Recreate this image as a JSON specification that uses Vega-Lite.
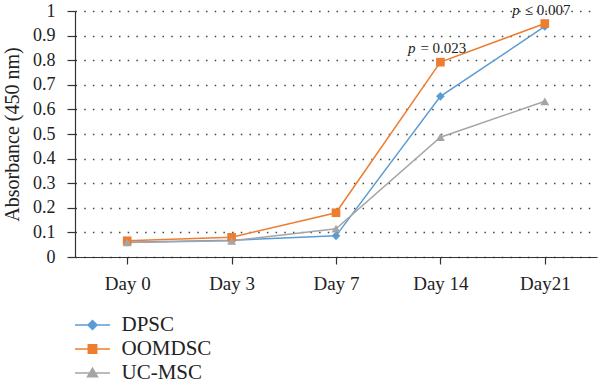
{
  "$schema": "https://vega.github.io/schema/vega-lite/v6.json",
  "width": 522,
  "height": 246,
  "autosize": "none",
  "padding": {"left": 75, "top": 11, "right": 3, "bottom": 131},
  "background": "white",
  "config": {
    "font": "Liberation Serif",
    "view": {"stroke": null},
    "axis": {"labelColor": "#222", "titleColor": "#222", "domainColor": "#333", "tickColor": "#333", "labelFont": "Liberation Serif", "titleFont": "Liberation Serif", "titleFontWeight": "normal"},
    "legend": {"labelFont": "Liberation Serif", "titleFont": "Liberation Serif"},
    "text": {"font": "Liberation Serif"}
  },
  "datasets": {
    "main": [
      {"day": "Day 0", "series": "DPSC", "value": 0.06},
      {"day": "Day 3", "series": "DPSC", "value": 0.068},
      {"day": "Day 7", "series": "DPSC", "value": 0.086},
      {"day": "Day 14", "series": "DPSC", "value": 0.653},
      {"day": "Day21", "series": "DPSC", "value": 0.937},
      {"day": "Day 0", "series": "OOMDSC", "value": 0.066},
      {"day": "Day 3", "series": "OOMDSC", "value": 0.08},
      {"day": "Day 7", "series": "OOMDSC", "value": 0.18},
      {"day": "Day 14", "series": "OOMDSC", "value": 0.792},
      {"day": "Day21", "series": "OOMDSC", "value": 0.949},
      {"day": "Day 0", "series": "UC-MSC", "value": 0.059},
      {"day": "Day 3", "series": "UC-MSC", "value": 0.066},
      {"day": "Day 7", "series": "UC-MSC", "value": 0.115},
      {"day": "Day 14", "series": "UC-MSC", "value": 0.487},
      {"day": "Day21", "series": "UC-MSC", "value": 0.633}
    ],
    "annot": [
      {"day": "Day 14", "value": 0.792, "p": "p", "rest": "= 0.023"},
      {"day": "Day21", "value": 0.949, "p": "p", "rest": "≤ 0.007"}
    ]
  },
  "encoding": {
    "x": {
      "field": "day", "type": "ordinal", "sort": ["Day 0", "Day 3", "Day 7", "Day 14", "Day21"],
      "scale": {"type": "point", "padding": 0.5},
      "axis": {"title": null, "labelAngle": 0, "labelFontSize": 19, "tickSize": 7, "labelPadding": 10, "grid": false, "domainWidth": 1.2, "tickWidth": 1.2}
    },
    "y": {
      "field": "value", "type": "quantitative",
      "scale": {"domain": [0, 1], "nice": false, "zero": true},
      "axis": {
        "title": "Absorbance (450 nm)", "titleFontSize": 20, "titlePadding": 10,
        "values": [0, 0.1, 0.2, 0.3, 0.4, 0.5, 0.6, 0.7, 0.8, 0.9, 1],
        "format": ".1~f", "labelFontSize": 18, "tickSize": 8, "labelPadding": 12,
        "grid": true, "gridDash": [1.5, 7.2], "gridColor": "#444", "gridWidth": 1.3,
        "domainWidth": 1.2, "tickWidth": 1.2
      }
    }
  },
  "layer": [
    {
      "data": {"name": "main"},
      "mark": {"type": "point", "opacity": 0, "strokeWidth": 1.5},
      "encoding": {
        "fill": {
          "field": "series", "type": "nominal",
          "scale": {"domain": ["DPSC", "OOMDSC", "UC-MSC"], "range": ["#5B9BD5", "#ED7D31", "#A5A5A5"]},
          "legend": {"title": null, "orient": "none", "legendX": 6.5, "legendY": 303, "labelFontSize": 21, "labelColor": "#222", "symbolSize": 400, "labelOffset": 18, "rowPadding": 3, "symbolStrokeWidth": 1.5, "symbolOpacity": 1}
        },
        "stroke": {
          "field": "series", "type": "nominal",
          "scale": {"domain": ["DPSC", "OOMDSC", "UC-MSC"], "range": ["#5B9BD5", "#ED7D31", "#A5A5A5"]},
          "legend": {"title": null, "orient": "none", "legendX": 6.5, "legendY": 303, "labelFontSize": 21, "labelColor": "#222", "symbolSize": 400, "labelOffset": 18, "rowPadding": 3, "symbolStrokeWidth": 1.5, "symbolOpacity": 1}
        },
        "shape": {
          "field": "series", "type": "nominal",
          "scale": {"domain": ["DPSC", "OOMDSC", "UC-MSC"], "range": ["M-1.75,0H1.75M0,-0.45L0.45,0L0,0.45L-0.45,0Z", "M-1.75,0H1.75M-0.42,-0.42H0.42V0.42H-0.42Z", "M-1.75,0H1.75M-0.5,0.38L0.5,0.38L0,-0.48Z"]},
          "legend": {"title": null, "orient": "none", "legendX": 6.5, "legendY": 303, "labelFontSize": 21, "labelColor": "#222", "symbolSize": 400, "labelOffset": 18, "rowPadding": 3, "symbolStrokeWidth": 1.5, "symbolOpacity": 1}
        }
      }
    },
    {
      "data": {"name": "main"},
      "mark": {"type": "line", "strokeWidth": 1.5},
      "encoding": {
        "color": {
          "field": "series", "type": "nominal", "legend": null,
          "scale": {"domain": ["DPSC", "OOMDSC", "UC-MSC"], "range": ["#5B9BD5", "#ED7D31", "#A5A5A5"]}
        }
      }
    },
    {
      "data": {"name": "main"},
      "transform": [{"filter": "datum.series === 'DPSC'"}],
      "mark": {"type": "point", "filled": true, "opacity": 1, "shape": "diamond", "size": 75},
      "encoding": {"color": {"field": "series", "type": "nominal", "legend": null}}
    },
    {
      "data": {"name": "main"},
      "transform": [{"filter": "datum.series === 'OOMDSC'"}],
      "mark": {"type": "point", "filled": true, "opacity": 1, "shape": "square", "size": 75},
      "encoding": {"color": {"field": "series", "type": "nominal", "legend": null}}
    },
    {
      "data": {"name": "main"},
      "transform": [{"filter": "datum.series === 'UC-MSC'"}],
      "mark": {"type": "point", "filled": true, "opacity": 1, "shape": "triangle-up", "size": 80},
      "encoding": {"color": {"field": "series", "type": "nominal", "legend": null}}
    },
    {
      "data": {"name": "annot"},
      "mark": {"type": "text", "align": "right", "dx": -25, "dy": -9, "baseline": "alphabetic", "fontSize": 15, "fontStyle": "italic", "color": "#222", "font": "Liberation Serif"},
      "encoding": {"text": {"field": "p"}}
    },
    {
      "data": {"name": "annot"},
      "mark": {"type": "text", "align": "left", "dx": -20, "dy": -9, "baseline": "alphabetic", "fontSize": 15, "color": "#222", "font": "Liberation Serif"},
      "encoding": {"text": {"field": "rest"}}
    }
  ]
}
